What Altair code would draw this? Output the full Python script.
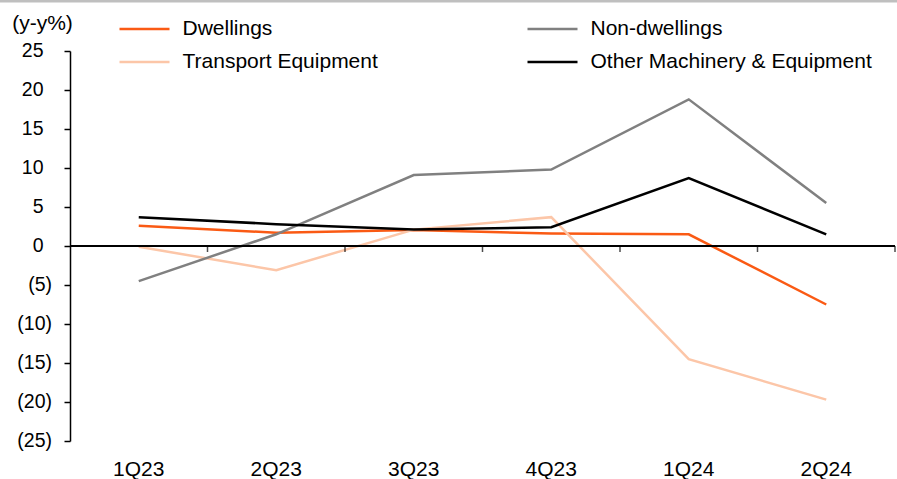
import altair as alt
import pandas as pd

quarters = ["1Q23", "2Q23", "3Q23", "4Q23", "1Q24", "2Q24"]
series_names = ["Dwellings", "Transport Equipment", "Non-dwellings", "Other Machinery & Equipment"]
dwellings = [2.6, 1.7, 2.05, 1.6, 1.5, -7.5]
transport = [-0.1, -3.1, 2.1, 3.7, -14.5, -19.7]
non_dwellings = [-4.5, 1.5, 9.1, 9.8, 18.8, 5.5]
other_me = [3.7, 2.8, 2.1, 2.4, 8.7, 1.5]
colors = ["#FA5A14", "#FCC6A8", "#808080", "#000000"]
y_ticks = [-25, -20, -15, -10, -5, 0, 5, 10, 15, 20, 25]

values = [dwellings, transport, non_dwellings, other_me]
rows = []
for name, vals in zip(series_names, values):
    for q, v in zip(quarters, vals):
        rows.append({"quarter": q, "series": name, "value": v})
df = pd.DataFrame(rows)
qdf = pd.DataFrame({"quarter": quarters})
tdf = pd.DataFrame({"value": y_ticks})

FONT = "Liberation Sans"
W, H = 825, 390

x_scale = alt.Scale(paddingInner=0, paddingOuter=0)
x_axis = alt.Axis(domain=False, ticks=False, labelAngle=0, labelFontSize=21,
                  labelFont=FONT, labelColor="#000000", labelPadding=17, title=None)
y_scale = alt.Scale(domain=[-25, 25], nice=False)
y_axis = alt.Axis(values=y_ticks, grid=False, domainColor="#000000",
                  domainWidth=1.5, tickColor="#000000", tickWidth=1.5, tickSize=6,
                  labels=False,
                  title="(y-y%)", titleAngle=0, titleFontSize=21, titleFont=FONT,
                  titleFontWeight="normal", titleColor="#000000", titleX=-28, titleY=-28,
                  titleAlign="center", titleBaseline="middle")

lines = alt.Chart(df).mark_line(strokeWidth=2.5).encode(
    x=alt.X("quarter:N", sort=quarters, scale=x_scale, axis=x_axis),
    y=alt.Y("value:Q", scale=y_scale, axis=y_axis),
    color=alt.Color("series:N", sort=series_names,
                    scale=alt.Scale(domain=series_names, range=colors),
                    legend=alt.Legend(title=None, orient="none", legendX=60.5, legendY=-36,
                                      columns=2, columnPadding=144, rowPadding=9,
                                      symbolType="M-2,0H2", symbolSize=625, symbolStrokeWidth=2.5,
                                      labelFontSize=21, labelFont=FONT, labelColor="#000000",
                                      labelOffset=24, labelLimit=400)),
)

zero = alt.Chart(qdf).mark_rule(color="#000000", strokeWidth=1.5).encode(
    y=alt.Y("value:Q", scale=y_scale, axis=y_axis)
).transform_calculate(value="0")

ticks = alt.Chart(qdf).mark_tick(color="#000000", thickness=1.5, size=6, orient="vertical", yOffset=3).encode(
    x=alt.X("quarter:N", sort=quarters, bandPosition=1, scale=x_scale, axis=x_axis),
    y=alt.Y("value:Q", scale=y_scale, axis=y_axis),
).transform_calculate(value="0")

neg_labels = alt.Chart(tdf).transform_filter("datum.value < 0").transform_calculate(
    label="'(' + abs(datum.value) + ')'"
).mark_text(align="right", baseline="middle", font=FONT, fontSize=19.5, color="#000000").encode(
    y=alt.Y("value:Q", scale=y_scale, axis=y_axis),
    x=alt.value(-18),
    text="label:N",
)

pos_labels = alt.Chart(tdf).transform_filter("datum.value >= 0").transform_calculate(
    label="'' + datum.value"
).mark_text(align="right", baseline="middle", font=FONT, fontSize=19.5, color="#000000").encode(
    y=alt.Y("value:Q", scale=y_scale, axis=y_axis),
    x=alt.value(-26.5),
    text="label:N",
)

frame = alt.Chart(qdf.head(1)).mark_rule(color="#BFBFBF", strokeWidth=3).encode(
    x=alt.value(-70), x2=alt.value(W + 2), y=alt.value(-50)
)

chart = alt.layer(lines, zero, ticks, neg_labels, pos_labels, frame).properties(
    width=W, height=H,
    background="white",
    autosize=alt.AutoSizeParams(type="none"),
    padding={"left": 70, "top": 51, "right": 2, "bottom": 38},
).configure_view(strokeWidth=0, stroke="transparent")

chart.save("out.html", embed_options={"renderer": "svg", "actions": False})
